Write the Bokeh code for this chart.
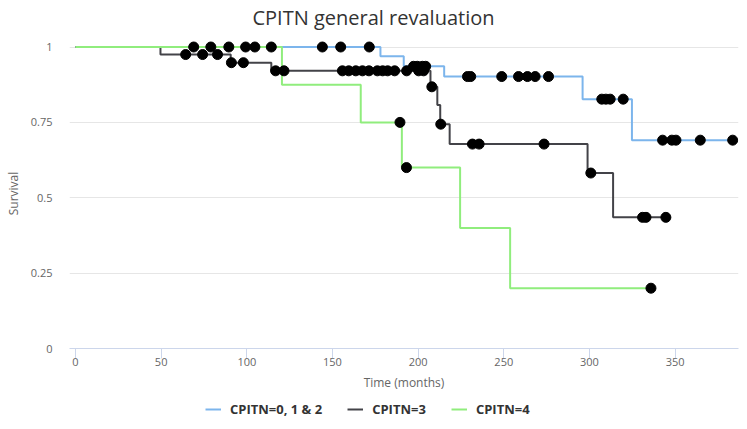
import numpy as np
from bokeh.plotting import figure
from bokeh.layouts import column
from bokeh.models import (Range1d, Legend, LegendItem, FixedTicker,
                          CustomJSTickFormatter, Label)
from bokeh.embed import file_html
from bokeh.resources import INLINE

# Kaplan-Meier curves: event times (months) and survival after each event
cpitn012_times = [0, 178.0, 191.6, 215.2, 296.0, 324.8, 383.6]
cpitn012_surv = [1.0, 0.969, 0.936, 0.902, 0.827, 0.691, 0.691]
cpitn012_censored = [69.0, 79.0, 89.5, 99.3, 104.7, 114.3, 144.1, 154.8, 171.5,
                     197.3, 199.5, 202.5, 204.4, 228.8, 230.7, 248.8, 258.6, 263.8,
                     268.3, 276.1, 307.2, 309.6, 312.1, 319.7, 342.7, 348.1, 350.5,
                     364.7, 383.6]

cpitn3_times = [0, 49.6, 90.6, 114.3, 207.2, 211.2, 212.9, 218.4, 298.9, 313.8, 344.6]
cpitn3_surv = [1.0, 0.975, 0.948, 0.921, 0.868, 0.808, 0.744, 0.678, 0.582, 0.435, 0.435]
cpitn3_censored = [64.3, 74.2, 82.9, 91.0, 98.0, 116.8, 121.7, 155.8, 159.5, 163.6,
                   167.5, 171.3, 176.2, 179.3, 182.2, 186.3, 193.3, 200.3, 203.2,
                   208.0, 213.2, 231.7, 235.6, 273.5, 300.8, 331.0, 333.0, 344.6]

cpitn4_times = [0, 120.5, 166.5, 190.5, 224.5, 253.7, 335.9]
cpitn4_surv = [1.0, 0.875, 0.75, 0.6, 0.4, 0.2, 0.2]
cpitn4_censored = [189.4, 193.2, 335.9]

series_names = ["CPITN=0, 1 & 2", "CPITN=3", "CPITN=4"]
series_colors = ["#7cb5ec", "#434348", "#90ed7d"]
y_ticks = [0, 0.25, 0.5, 0.75, 1]
x_ticks = [0, 50, 100, 150, 200, 250, 300, 350]
chart_title = "CPITN general revaluation"

FONT = "Open Sans"


def surv_at(times, surv, t):
    """Survival of a step curve at time t (value after the last event <= t)."""
    idx = np.searchsorted(np.asarray(times), np.asarray(t), side="right") - 1
    return list(np.asarray(surv)[idx])


def strip(height):
    """Axis-less figure used for the header and the legend row."""
    f = figure(width=747, height=height, output_backend="svg", toolbar_location=None,
               x_range=Range1d(0, 1), y_range=Range1d(0, 1),
               x_axis_location=None, y_axis_location=None, min_border=0)
    f.outline_line_color = None
    f.grid.visible = False
    try:
        f.title = None
    except Exception:
        f.title.text = ""
    return f


# header with the chart title
head = strip(38)
head.add_layout(Label(x=0.4544, y=0.54, text=chart_title, text_align="center",
                      text_baseline="middle", text_font=FONT, text_font_size="20px",
                      text_color="#333333"))

# main chart
p = figure(width=747, height=357, output_backend="svg", toolbar_location=None,
           x_range=Range1d(-3.5, 387), y_range=Range1d(0, 1.0282),
           min_border_left=69, min_border_right=9, min_border_top=0,
           min_border_bottom=47)
try:
    p.title = None
except Exception:
    p.title.text = ""
p.outline_line_color = None
p.background_fill_color = "white"
p.border_fill_color = "white"

p.xaxis.ticker = FixedTicker(ticks=x_ticks)
p.xaxis.axis_line_color = "#ccd6eb"
p.xaxis.major_tick_line_color = "#ccd6eb"
p.xaxis.major_tick_out = 10
p.xaxis.major_tick_in = 0
p.xaxis.minor_tick_line_color = None
p.xaxis.major_label_standoff = -1
p.xaxis.axis_label = "Time (months)"
p.xaxis.axis_label_standoff = 5

p.yaxis.ticker = FixedTicker(ticks=y_ticks)
p.yaxis.formatter = CustomJSTickFormatter(code="return tick.toString();")
p.yaxis.axis_line_color = None
p.yaxis.major_tick_line_color = None
p.yaxis.minor_tick_line_color = None
p.yaxis.major_tick_out = 0
p.yaxis.major_tick_in = 0
p.yaxis.major_label_standoff = 17
p.yaxis.axis_label = "Survival"
p.yaxis.axis_label_standoff = 6

for ax in (p.xaxis, p.yaxis):
    ax.major_label_text_font = FONT
    ax.major_label_text_font_size = "11px"
    ax.major_label_text_color = "#666666"
    ax.axis_label_text_font = FONT
    ax.axis_label_text_font_size = "12px"
    ax.axis_label_text_font_style = "normal"
    ax.axis_label_text_color = "#666666"

p.xgrid.grid_line_color = None
p.ygrid.grid_line_color = "#e6e6e6"
p.ygrid.grid_line_width = 1

# survival step lines
curves = [(cpitn012_times, cpitn012_surv), (cpitn3_times, cpitn3_surv),
          (cpitn4_times, cpitn4_surv)]
for (t, s), c in zip(curves, series_colors):
    p.step(t, s, mode="after", line_color=c, line_width=2)

# censored observations
for (t, s), cens in zip(curves, [cpitn012_censored, cpitn3_censored, cpitn4_censored]):
    p.scatter(cens, surv_at(t, s, cens), size=10, fill_color="black",
              line_color="black")

# legend row beneath the chart (swatch lines sit outside the strip's range)
leg = strip(34)
leg_renderers = [leg.line([5, 6], [5, 6], line_color=c, line_width=2)
                 for c in series_colors]
legend = Legend(items=[LegendItem(label=n, renderers=[r])
                       for n, r in zip(series_names, leg_renderers)],
                orientation="horizontal", location=(136, 11),
                glyph_width=16, glyph_height=16, label_height=16,
                label_standoff=9, spacing=25, padding=0, margin=0,
                border_line_color=None, background_fill_alpha=0,
                label_text_font=FONT, label_text_font_size="13px",
                label_text_font_style="bold", label_text_color="#333333")
leg.add_layout(legend, "center")

open("out.html", "w").write(file_html(column(head, p, leg, spacing=0), INLINE))
